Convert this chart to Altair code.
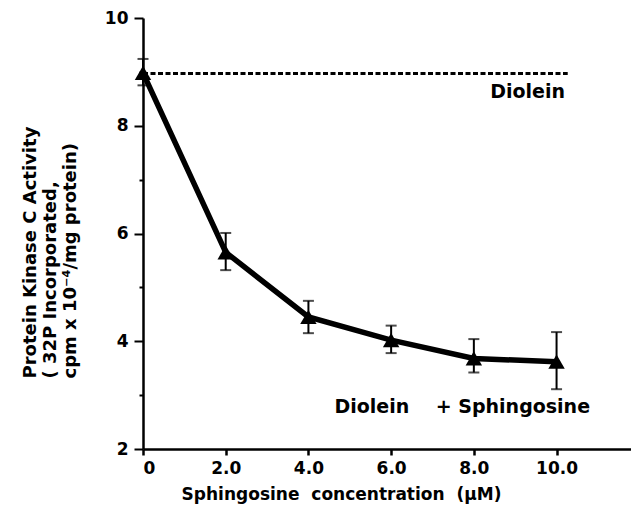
import altair as alt
import pandas as pd

# Data
conc = [0, 2, 4, 6, 8, 10]
activity = [8.98, 5.65, 4.45, 4.02, 3.68, 3.62]
err_low = [8.75, 5.32, 4.15, 3.78, 3.42, 3.11]
err_high = [9.24, 6.01, 4.75, 4.29, 4.04, 4.17]

diolein_level = [8.97]
diolein_x = [0]
diolein_x2 = [10.27]

x_ticks = [0, 2, 4, 6, 8, 10]
y_ticks = [2, 3, 4, 5, 6, 7, 8, 9, 10]

label_text = ["Diolein", "Diolein\u00a0\u00a0\u00a0\u00a0+\u00a0Sphingosine"]
label_x = [9.3, 7.72]
label_y = [8.62, 2.78]

FONT = "DejaVu Sans"

df = pd.DataFrame({"conc": conc, "act": activity, "lo": err_low, "hi": err_high})
dash_df = pd.DataFrame({"x": diolein_x, "x2": diolein_x2, "y": diolein_level})
lab_df = pd.DataFrame({"x": label_x, "y": label_y, "t": label_text})

xscale = alt.Scale(domain=[0, 11.8], nice=False, zero=False)
yscale = alt.Scale(domain=[2, 10], nice=False, zero=False)

xaxis = alt.Axis(
    values=x_ticks,
    labelExpr="datum.value == 0 ? '0' : format(datum.value, '.1f')",
    title="Sphingosine\u00a0\u00a0concentration\u00a0\u00a0(\u00b5M)",
    titleX=198,
    titleAlign="center",
    titlePadding=10,
    titleFontSize=17,
    grid=False,
    tickSize=6,
    tickWidth=2.5,
    domainWidth=2.5,
    labelPadding=5,
)
yaxis = alt.Axis(
    values=y_ticks,
    labelExpr="datum.value % 2 == 0 ? datum.label : ''",
    title=["Protein Kinase C Activity", "( 32P Incorporated,",
           "\u00a0\u00a0\u00a0\u00a0cpm x 10\u207b\u2074/mg protein)"],
    titleAlign="left",
    titleY=360,
    titlePadding=25,
    titleLineHeight=20,
    titleFontSize=18,
    grid=False,
    tickSize={"condition": {"test": "datum.value % 2 == 1", "value": 4}, "value": 9},
    tickWidth=2,
    domainWidth=2.5,
    labelPadding=6,
)

base = alt.Chart(df)

dashed = alt.Chart(dash_df).mark_rule(strokeDash=[5, 2.5], strokeWidth=3, color="black").encode(
    x=alt.X("x:Q", scale=xscale, axis=xaxis),
    x2="x2:Q",
    y=alt.Y("y:Q", scale=yscale, axis=yaxis),
)

errs = base.mark_rule(strokeWidth=2, color="black").encode(
    x=alt.X("conc:Q", scale=xscale), y=alt.Y("lo:Q", scale=yscale), y2="hi:Q"
)
cap_lo = base.mark_tick(orient="horizontal", size=11, thickness=2, color="black").encode(
    x=alt.X("conc:Q", scale=xscale), y=alt.Y("lo:Q", scale=yscale)
)
cap_hi = base.mark_tick(orient="horizontal", size=11, thickness=2, color="black").encode(
    x=alt.X("conc:Q", scale=xscale), y=alt.Y("hi:Q", scale=yscale)
)
line = base.mark_line(strokeWidth=5.5, color="black").encode(
    x=alt.X("conc:Q", scale=xscale), y=alt.Y("act:Q", scale=yscale)
)
pts = base.mark_point(shape="triangle-up", filled=True, size=270, color="black", opacity=1).encode(
    x=alt.X("conc:Q", scale=xscale), y=alt.Y("act:Q", scale=yscale)
)
labels = alt.Chart(lab_df).mark_text(font=FONT, fontWeight="bold", fontSize=19, color="black").encode(
    x=alt.X("x:Q", scale=xscale), y=alt.Y("y:Q", scale=yscale), text="t:N"
)

chart = alt.layer(dashed, errs, cap_lo, cap_hi, line, pts, labels).properties(
    width=488,
    height=431,
    autosize=alt.AutoSizeParams(type="none"),
    padding={"left": 143, "top": 18, "right": 0, "bottom": 70},
    background="white",
).configure_view(stroke=None).configure_axis(
    labelFont=FONT, labelFontWeight="bold", labelFontSize=17, labelColor="black",
    titleFont=FONT, titleFontWeight="bold", titleColor="black",
    domainColor="black", tickColor="black",
)

chart.save("out.html", embed_options={"renderer": "svg", "actions": False})
